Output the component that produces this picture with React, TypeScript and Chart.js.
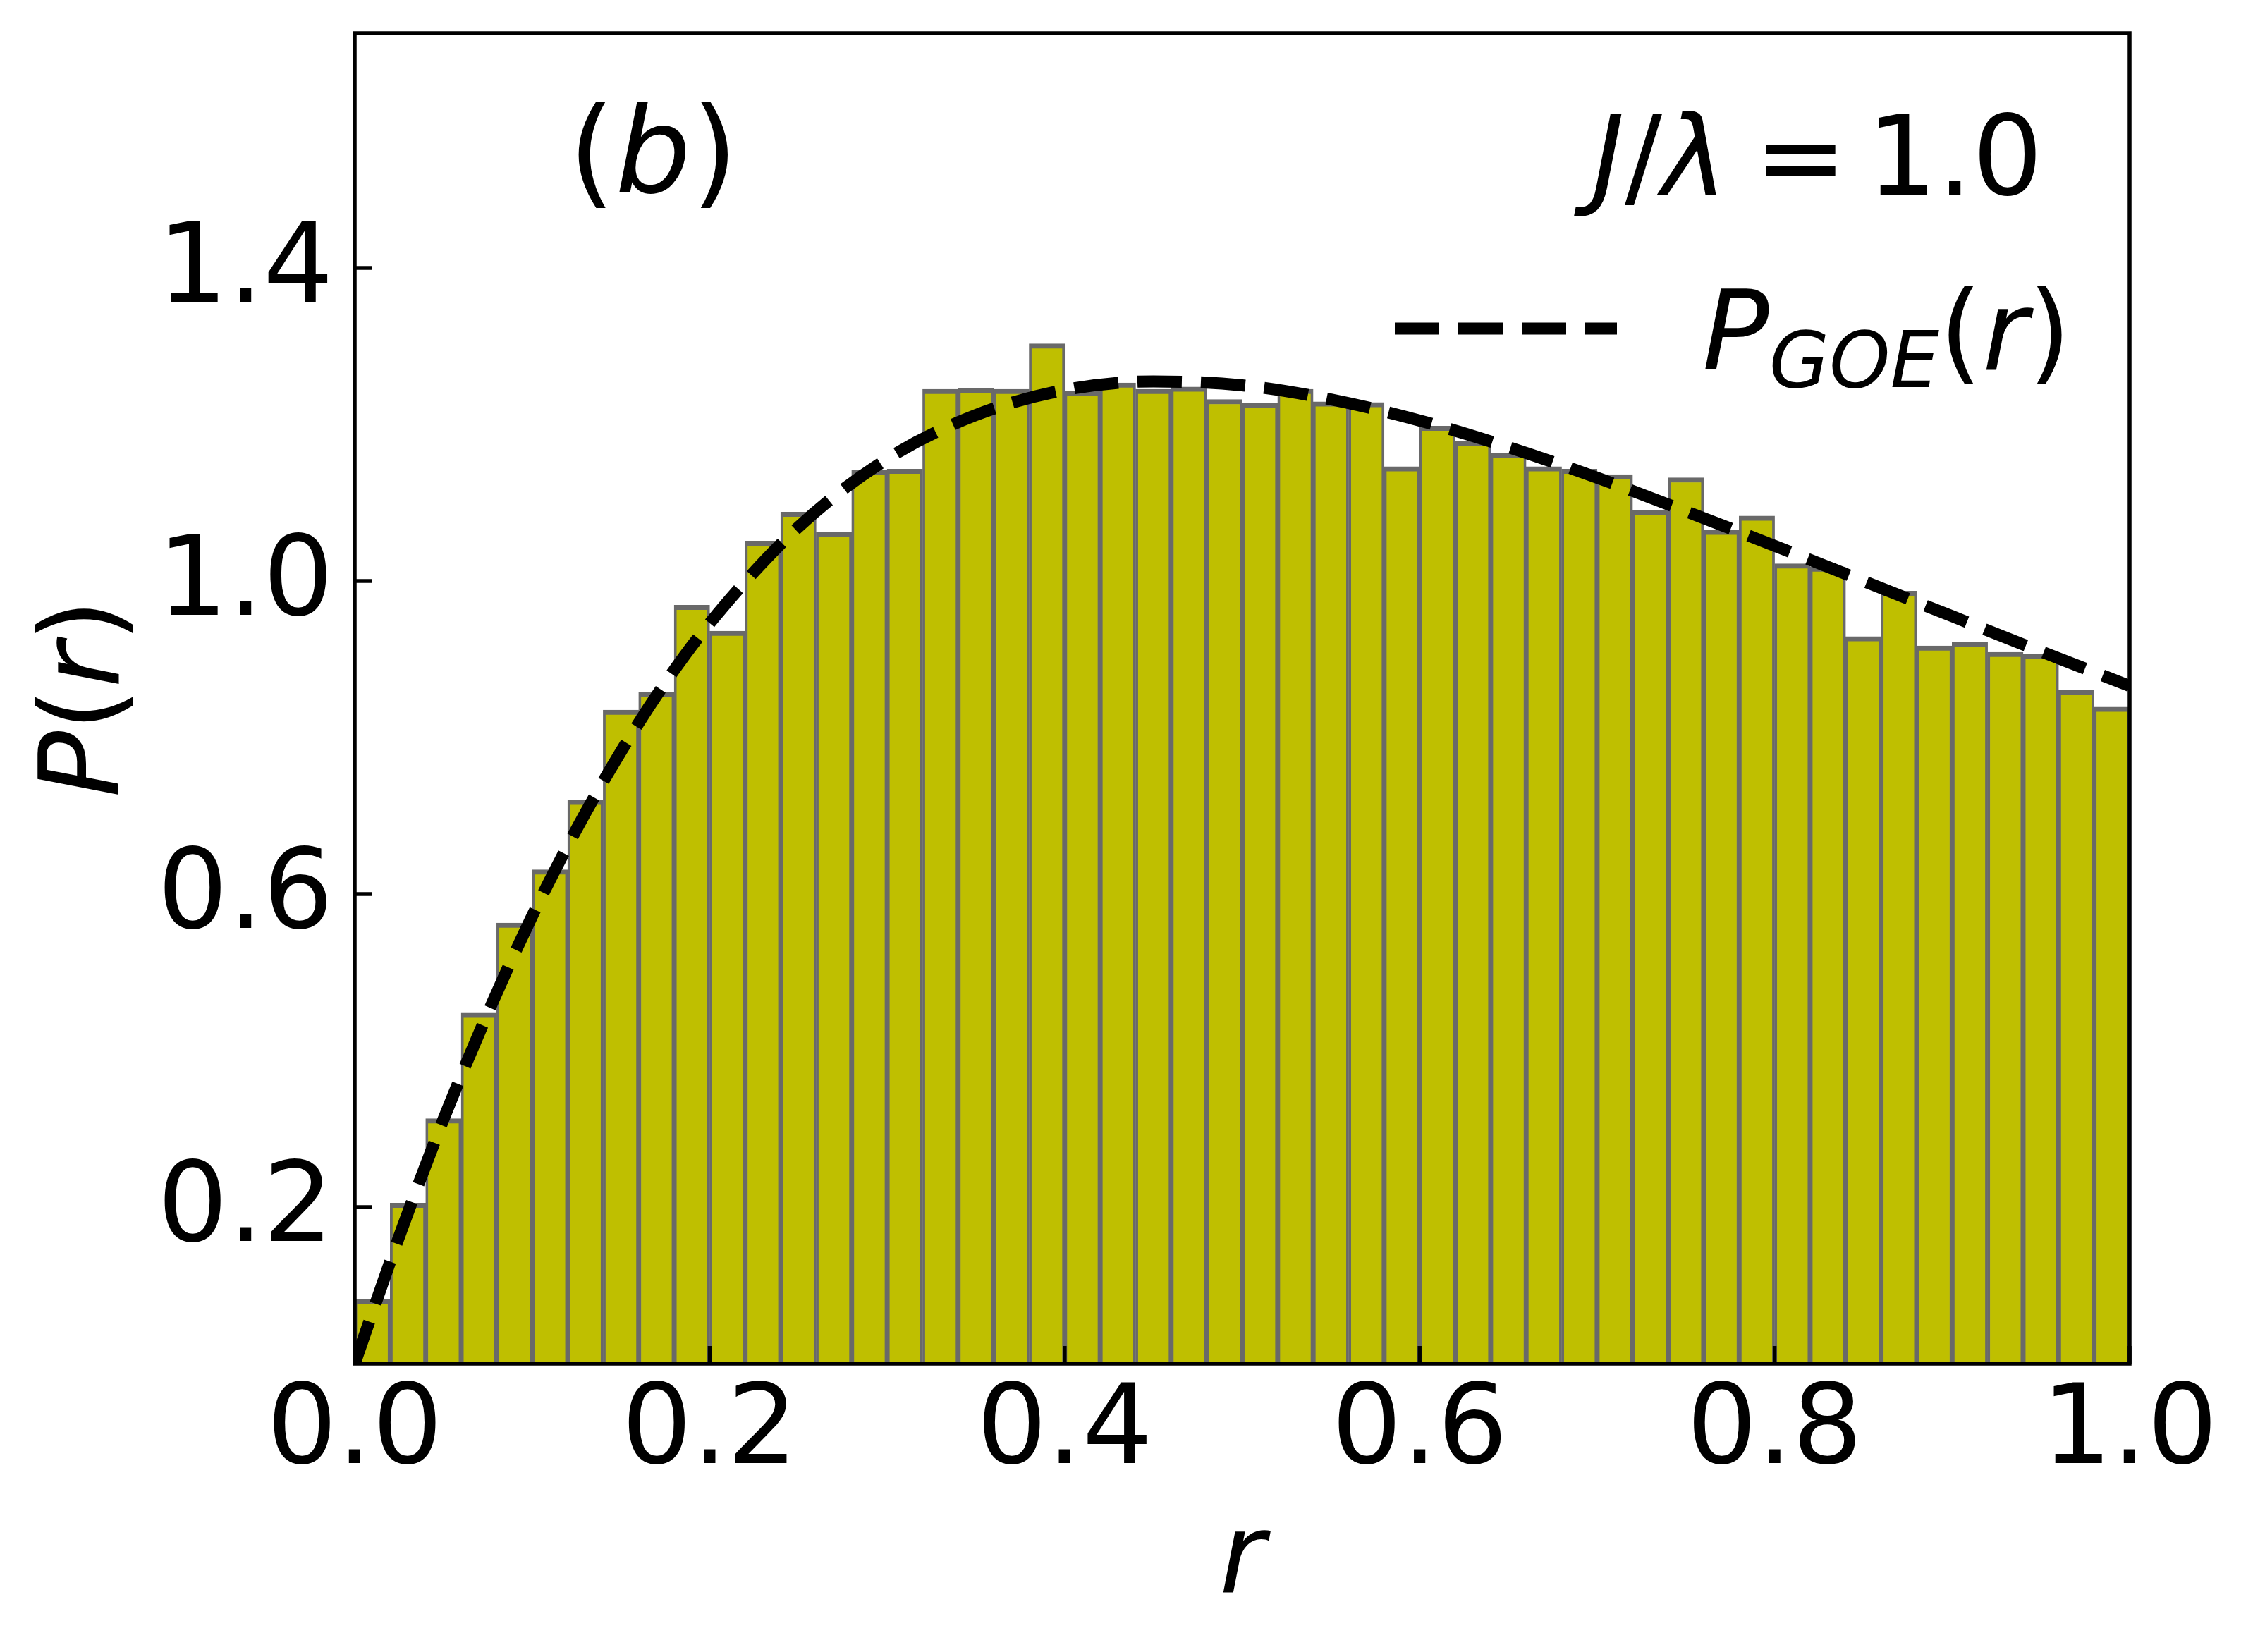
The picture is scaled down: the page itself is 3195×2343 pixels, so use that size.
import { useEffect, useRef } from "react"
import { Chart, registerables, type ChartConfiguration, type Plugin } from "chart.js"

Chart.register(...registerables)

// histogram of r, 50 bins of width 0.02
const binCenters = [
  0.01, 0.03, 0.05, 0.07, 0.09, 0.11, 0.13, 0.15, 0.17, 0.19,
  0.21, 0.23, 0.25, 0.27, 0.29, 0.31, 0.33, 0.35, 0.37, 0.39,
  0.41, 0.43, 0.45, 0.47, 0.49, 0.51, 0.53, 0.55, 0.57, 0.59,
  0.61, 0.63, 0.65, 0.67, 0.69, 0.71, 0.73, 0.75, 0.77, 0.79,
  0.81, 0.83, 0.85, 0.87, 0.89, 0.91, 0.93, 0.95, 0.97, 0.99,
]
const histValues = [
  0.082, 0.205, 0.313, 0.448, 0.563, 0.631, 0.72, 0.835, 0.858, 0.969,
  0.936, 1.051, 1.088, 1.062, 1.142, 1.143, 1.245, 1.246, 1.245, 1.303,
  1.242, 1.253, 1.245, 1.248, 1.232, 1.227, 1.245, 1.229, 1.228, 1.146,
  1.198, 1.178, 1.163, 1.146, 1.143, 1.136, 1.09, 1.132, 1.065, 1.083,
  1.022, 1.018, 0.929, 0.987, 0.917, 0.922, 0.909, 0.906, 0.86, 0.839,
]

// dashed P_GOE(r) curve
const goeR = [
  0, 0.025, 0.05, 0.075, 0.1, 0.125, 0.15, 0.175, 0.2, 0.25, 0.3, 0.35, 0.4,
  0.45, 0.5, 0.55, 0.6, 0.65, 0.7, 0.75, 0.8, 0.85, 0.9, 0.95, 1.0,
]
const goeP = [
  0, 0.162, 0.312, 0.448, 0.572, 0.683, 0.782, 0.870, 0.946, 1.069, 1.156, 1.212, 1.244,
  1.255, 1.250, 1.232, 1.205, 1.171, 1.132, 1.089, 1.045, 1.000, 0.955, 0.910, 0.866,
]

const xTicks = [0, 0.2, 0.4, 0.6, 0.8, 1.0]
const yTicks = [0.2, 0.6, 1.0, 1.4]

const W = 3195
const H = 2343
const FONT = "'DejaVu Sans', 'Liberation Sans', sans-serif"
const FS = 157

type Run = { text: string; italic?: boolean; size?: number; dy?: number; gap?: number }

function drawRuns(ctx: CanvasRenderingContext2D, runs: Run[], x: number, y: number, align: "left" | "right") {
  const fontOf = (r: Run) => `${r.italic ? "italic " : ""}${r.size ?? FS}px ${FONT}`
  let total = 0
  for (const r of runs) {
    ctx.font = fontOf(r)
    total += ctx.measureText(r.text).width + (r.gap ?? 0)
  }
  let cx = align === "right" ? x - total : x
  ctx.textAlign = "left"
  ctx.textBaseline = "alphabetic"
  for (const r of runs) {
    ctx.font = fontOf(r)
    ctx.fillText(r.text, cx, y + (r.dy ?? 0))
    cx += ctx.measureText(r.text).width + (r.gap ?? 0)
  }
}

const decorations: Plugin = {
  id: "decorations",
  afterDatasetsDraw(chart) {
    const { ctx, chartArea: a, scales } = chart
    const x = scales.x
    const y = scales.y
    ctx.save()
    ctx.strokeStyle = "#000"
    ctx.lineWidth = 5.5
    ctx.lineCap = "butt"
    for (const v of xTicks) {
      const px = x.getPixelForValue(v)
      ctx.beginPath()
      ctx.moveTo(px, a.bottom)
      ctx.lineTo(px, a.bottom - 25)
      ctx.stroke()
    }
    for (const v of yTicks) {
      const py = y.getPixelForValue(v)
      ctx.beginPath()
      ctx.moveTo(a.left, py)
      ctx.lineTo(a.left + 25, py)
      ctx.stroke()
    }
    ctx.strokeRect(a.left, a.top, a.right - a.left, a.bottom - a.top)
    ctx.restore()
  },
  afterDraw(chart) {
    const { ctx, chartArea: a } = chart
    ctx.save()
    ctx.fillStyle = "#000"

    // panel label and parameter
    drawRuns(
      ctx,
      [{ text: "(", size: 170 }, { text: "b", italic: true, size: 170 }, { text: ")", size: 170 }],
      806,
      273,
      "left",
    )
    drawRuns(
      ctx,
      [
        { text: "J", italic: true },
        { text: "/" },
        { text: "λ", italic: true, gap: 38 },
        { text: "=", gap: 28 },
        { text: "1.0" },
      ],
      2897,
      276,
      "right",
    )

    // legend
    ctx.strokeStyle = "#000"
    ctx.lineWidth = 17
    ctx.setLineDash([63, 27])
    ctx.beginPath()
    ctx.moveTo(1978, 466)
    ctx.lineTo(2293, 466)
    ctx.stroke()
    ctx.setLineDash([])
    drawRuns(
      ctx,
      [
        { text: "P", italic: true },
        { text: "GOE", italic: true, size: 110, dy: 25 },
        { text: "(" },
        { text: "r", italic: true },
        { text: ")" },
      ],
      2414,
      524,
      "left",
    )

    // axis titles
    ctx.textAlign = "center"
    ctx.font = `italic ${FS}px ${FONT}`
    ctx.fillText("r", (a.left + a.right) / 2, 2258)

    ctx.translate(168, (a.top + a.bottom) / 2)
    ctx.rotate(-Math.PI / 2)
    const runs: Run[] = [{ text: "P", italic: true }, { text: "(" }, { text: "r", italic: true }, { text: ")" }]
    let total = 0
    for (const r of runs) {
      ctx.font = `${r.italic ? "italic " : ""}${FS}px ${FONT}`
      total += ctx.measureText(r.text).width
    }
    drawRuns(ctx, runs, -total / 2, 0, "left")
    ctx.restore()
  },
}

export default function App() {
  const chartRef = useRef<HTMLCanvasElement>(null)

  useEffect(() => {
    if (!chartRef.current) return
    const ctx = chartRef.current.getContext("2d")
    if (!ctx) return

    const config: ChartConfiguration = {
      type: "bar",
      data: {
        datasets: [
          {
            type: "line",
            data: goeR.map((r, i) => ({ x: r, y: goeP[i] })),
            borderColor: "#000000",
            borderWidth: 17,
            borderDash: [63, 27],
            pointRadius: 0,
            cubicInterpolationMode: "monotone",
            fill: false,
            clip: 0,
            order: 0,
          } as any,
          {
            type: "bar",
            data: binCenters.map((c, i) => ({ x: c, y: histValues[i] })),
            backgroundColor: "#bfbf00",
            borderColor: "#696969",
            borderWidth: { top: 7, left: 3.8, right: 3.8, bottom: 0 },
            borderSkipped: false,
            barPercentage: 1,
            categoryPercentage: 1,
            order: 1,
          } as any,
        ],
      },
      options: {
        responsive: false,
        devicePixelRatio: 1,
        animation: false,
        layout: { padding: { top: 47, right: 175, left: 0, bottom: 0 } },
        plugins: {
          legend: { display: false },
          tooltip: { enabled: false },
        },
        scales: {
          x: {
            type: "linear",
            min: 0,
            max: 1,
            offset: false,
            grid: { display: false, drawTicks: false },
            border: { display: false },
            afterBuildTicks: (scale) => {
              scale.ticks = xTicks.map((v) => ({ value: v }))
            },
            afterFit: (scale: any) => {
              scale.height = 409
              scale.paddingLeft = 0
              scale.paddingRight = 0
            },
            ticks: {
              color: "#000",
              padding: 6,
              maxRotation: 0,
              autoSkip: false,
              font: { family: FONT, size: FS },
              callback: (v) => Number(v).toFixed(1),
            },
          },
          y: {
            type: "linear",
            min: 0,
            max: 1.7,
            grid: { display: false, drawTicks: false },
            border: { display: false },
            afterBuildTicks: (scale) => {
              scale.ticks = yTicks.map((v) => ({ value: v }))
            },
            afterFit: (scale: any) => {
              scale.width = 503
              scale.paddingTop = 0
              scale.paddingBottom = 0
            },
            ticks: {
              color: "#000",
              padding: 30,
              labelOffset: 7,
              autoSkip: false,
              font: { family: FONT, size: FS },
              callback: (v) => Number(v).toFixed(1),
            },
          },
        },
      },
      plugins: [decorations],
    }

    const chart = new Chart(ctx, config)
    return () => chart.destroy()
  }, [])

  return (
    <div style={{ position: "absolute", left: 0, top: 0, width: W, height: H, background: "#ffffff" }}>
      <canvas ref={chartRef} width={W} height={H} style={{ width: W, height: H, display: "block" }} />
    </div>
  )
}
